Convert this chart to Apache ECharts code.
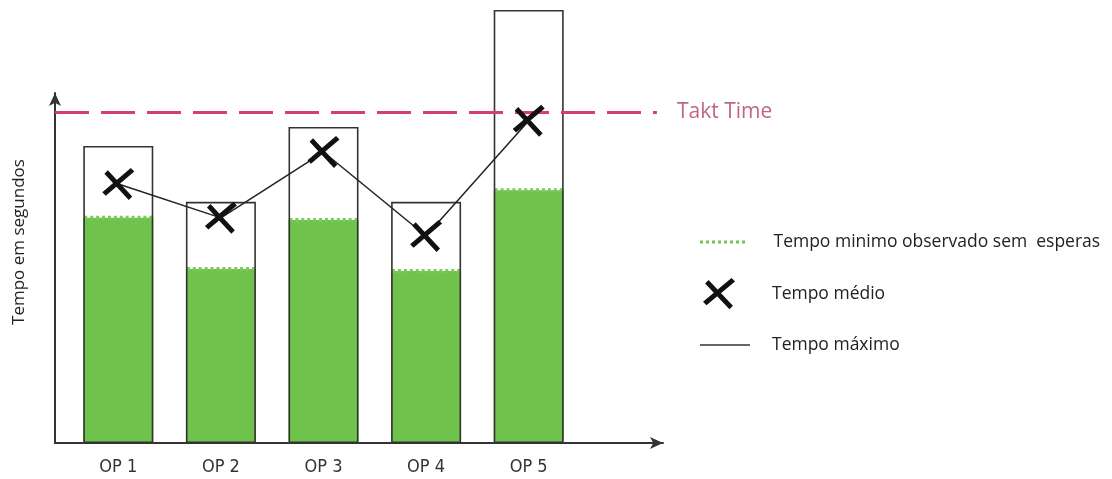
<!DOCTYPE html>
<html>
<head>
<meta charset="utf-8">
<script src="https://cdn.jsdelivr.net/npm/echarts@6/dist/echarts.min.js"></script>
<style>
  html, body { margin: 0; padding: 0; background: #fff; }
  #chart { width: 1112px; height: 479px; }
</style>
</head>
<body>
<div id="chart"></div>
<script>
// values (arbitrary seconds scale, 0..100)
const categories = ['OP 1', 'OP 2', 'OP 3', 'OP 4', 'OP 5'];
const maxTimes = [68.6, 55.7, 73.0, 55.7, 100];
const minTimes = [52.0, 40.2, 51.5, 39.7, 58.4];
const avgTimes = [59.8, 52.0, 67.2, 47.8, 74.4];
const taktTime = 76.4;

const NAME_MIN = 'Tempo minimo observado sem  esperas';
const NAME_AVG = 'Tempo médio';
const NAME_MAX = 'Tempo máximo';

// row of little squares, used for the dotted top edge and its legend icon
function dotRow(count) {
  let d = 'path://';
  for (let i = 0; i < count; i++) {
    d += 'M' + (i * 6) + ',0h3v3h-3z ';
  }
  return d;
}
// slightly skewed hand-drawn looking cross
const crossPath = 'path://M2,6 L4.5,3.5 L22,22 L19.5,24.5 Z M21,2 L23.5,4.5 L3,21.5 L0.5,19 Z';

const chart = echarts.init(document.getElementById('chart'));

const legendText = { fontSize: 17.5, color: '#222', fontFamily: 'Open Sans' };

const option = {
  animation: false,
  backgroundColor: '#fff',
  grid: [
    { left: 67, right: 532, top: 10, bottom: 36 },
    { left: 55, right: 449, top: 93, bottom: 36 }
  ],
  xAxis: [
    {
      type: 'category',
      gridIndex: 0,
      data: categories,
      axisLine: { show: false },
      axisTick: { show: false },
      axisLabel: {
        margin: 15,
        fontSize: 18,
        color: '#333',
        fontFamily: 'DejaVu Sans Condensed'
      }
    },
    {
      type: 'value',
      gridIndex: 1,
      min: 0,
      max: 100,
      axisLine: {
        show: true,
        symbol: ['none', 'arrow'],
        symbolSize: [9, 13],
        lineStyle: { color: '#333', width: 2 }
      },
      axisTick: { show: false },
      axisLabel: { show: false },
      splitLine: { show: false }
    }
  ],
  yAxis: [
    {
      type: 'value',
      gridIndex: 0,
      min: 0,
      max: 100,
      show: false
    },
    {
      type: 'value',
      gridIndex: 1,
      min: 0,
      max: 80.8,
      name: 'Tempo em segundos',
      nameLocation: 'middle',
      nameRotate: 90,
      nameGap: 27,
      nameTextStyle: {
        fontSize: 17,
        color: '#222',
        fontFamily: 'Open Sans',
        padding: [0, 0, 0, 52]
      },
      axisLine: {
        show: true,
        symbol: ['none', 'arrow'],
        symbolSize: [9, 13],
        lineStyle: { color: '#333', width: 2 }
      },
      axisTick: { show: false },
      axisLabel: { show: false },
      splitLine: { show: false }
    }
  ],
  legend: [
    {
      left: 695,
      top: 228,
      itemWidth: 48,
      itemHeight: 3,
      data: [{ name: NAME_MIN, icon: dotRow(8), itemStyle: { color: '#74c452', borderWidth: 0 } }],
      textStyle: Object.assign({ padding: [6, 0, 0, 22] }, legendText),
      selectedMode: false
    },
    {
      left: 698,
      top: 273,
      itemWidth: 32,
      itemHeight: 32,
      data: [{ name: NAME_AVG, icon: crossPath, itemStyle: { color: '#111', borderWidth: 0 } }],
      textStyle: Object.assign({ padding: [0, 0, 0, 32] }, legendText),
      selectedMode: false
    },
    {
      left: 695,
      top: 331,
      itemWidth: 50,
      itemHeight: 1.6,
      data: [{ name: NAME_MAX, icon: 'rect', itemStyle: { color: '#333', borderWidth: 0 } }],
      textStyle: Object.assign({ padding: [6, 0, 0, 17] }, legendText),
      selectedMode: false
    }
  ],
  series: [
    {
      name: 'minFill',
      type: 'bar',
      xAxisIndex: 0,
      yAxisIndex: 0,
      data: minTimes,
      barWidth: 70,
      barGap: '-100%',
      itemStyle: { color: '#6fc24b' },
      z: 1
    },
    {
      name: NAME_MAX,
      type: 'bar',
      xAxisIndex: 0,
      yAxisIndex: 0,
      data: maxTimes,
      barWidth: 70,
      barGap: '-100%',
      itemStyle: { color: 'rgba(0,0,0,0)', borderColor: '#333', borderWidth: 1.6 },
      z: 3
    },
    {
      name: NAME_MIN,
      type: 'pictorialBar',
      xAxisIndex: 0,
      yAxisIndex: 0,
      data: minTimes,
      symbol: dotRow(12),
      symbolSize: [68, 4],
      symbolPosition: 'end',
      symbolOffset: [0, '-50%'],
      itemStyle: { color: '#7cc85a' },
      z: 2
    },
    {
      name: NAME_AVG,
      type: 'line',
      xAxisIndex: 0,
      yAxisIndex: 0,
      data: avgTimes,
      symbol: crossPath,
      symbolSize: 32,
      itemStyle: { color: '#111' },
      lineStyle: { color: '#222', width: 1.5 },
      z: 5
    },
    {
      name: 'Takt Time',
      type: 'line',
      xAxisIndex: 1,
      yAxisIndex: 1,
      data: [],
      markLine: {
        silent: true,
        symbol: ['none', 'none'],
        lineStyle: { color: '#d63d76', width: 3, type: [34, 12] },
        label: {
          show: true,
          position: 'end',
          distance: 20,
          formatter: 'Takt Time',
          color: '#c2638a',
          fontSize: 21,
          fontFamily: 'Open Sans'
        },
        data: [[{ coord: [0, taktTime] }, { coord: [99, taktTime] }]]
      },
      z: 4
    }
  ]
};

chart.setOption(option);
</script>
</body>
</html>
